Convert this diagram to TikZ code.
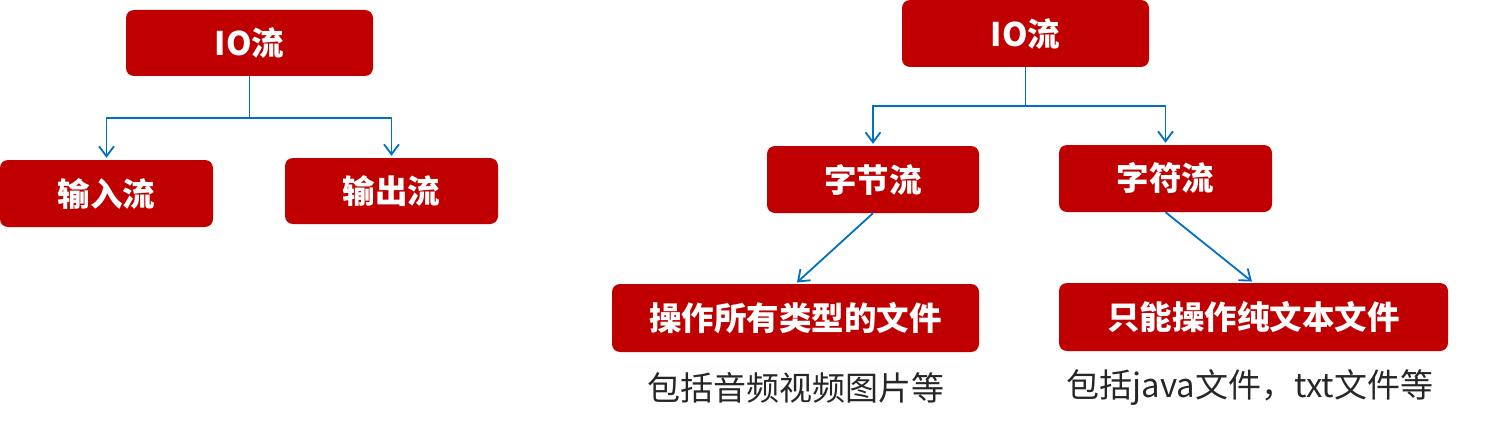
\documentclass[tikz,border=0pt]{standalone}
\usepackage{fontspec}
\newfontfamily\cjk{Noto Sans CJK SC}
\usetikzlibrary{arrows.meta}
\definecolor{boxred}{HTML}{C00000}
\definecolor{lineblue}{HTML}{0070C0}
\definecolor{captgray}{HTML}{262626}
\tikzset{
  box/.style={fill=boxred, draw=none, rounded corners=8pt, inner sep=0pt,
    text=white, font=\cjk\bfseries\fontsize{32.5}{38}\selectfont},
  conn/.style={draw=lineblue, line width=1.8pt,
    -{Straight Barb[length=10pt,width=15pt,line width=1.8pt]}, shorten >=2pt},
  caption/.style={text=captgray, inner sep=0pt, font=\cjk\fontsize{33}{38}\selectfont}
}
\begin{document}
\begin{tikzpicture}[x=1pt,y=-1pt]
\useasboundingbox (0,0) rectangle (1497,428);
% left tree
\node[box, minimum width=247pt, minimum height=66pt] (io1) at (249.5,43) {IO流};
\node[box, minimum width=213pt, minimum height=67pt] (in) at (106.5,193.5) {输入流};
\node[box, minimum width=213pt, minimum height=66pt] (out) at (391.5,191) {输出流};
\coordinate (j1) at (249.5,118);
\draw[conn] (io1.south) -- (j1) -| (in.north);
\draw[conn] (j1) -| (out.north);
% right tree
\node[box, minimum width=247pt, minimum height=67pt] (io2) at (1025.5,33.5) {IO流};
\node[box, minimum width=212pt, minimum height=67pt] (byte) at (873,179.5) {字节流};
\node[box, minimum width=213pt, minimum height=67pt] (char) at (1165.5,178.5) {字符流};
\coordinate (j2) at (1025.5,106);
\draw[conn] (io2.south) -- (j2) -| (byte.north);
\draw[conn] (j2) -| (char.north);
\node[box, minimum width=367pt, minimum height=68pt] (all) at (795.5,318) {操作所有类型的文件};
\node[box, minimum width=389pt, minimum height=68pt] (txt) at (1253.5,317) {只能操作纯文本文件};
\draw[conn] (byte.south) -- (all.north);
\draw[conn] (char.south) -- (txt.north);
\node[caption] (c1) at (796,388) {包括音频视频图片等};
\node[caption] (c2) at (1250,388) {包括java文件，txt文件等};
\end{tikzpicture}
\end{document}
